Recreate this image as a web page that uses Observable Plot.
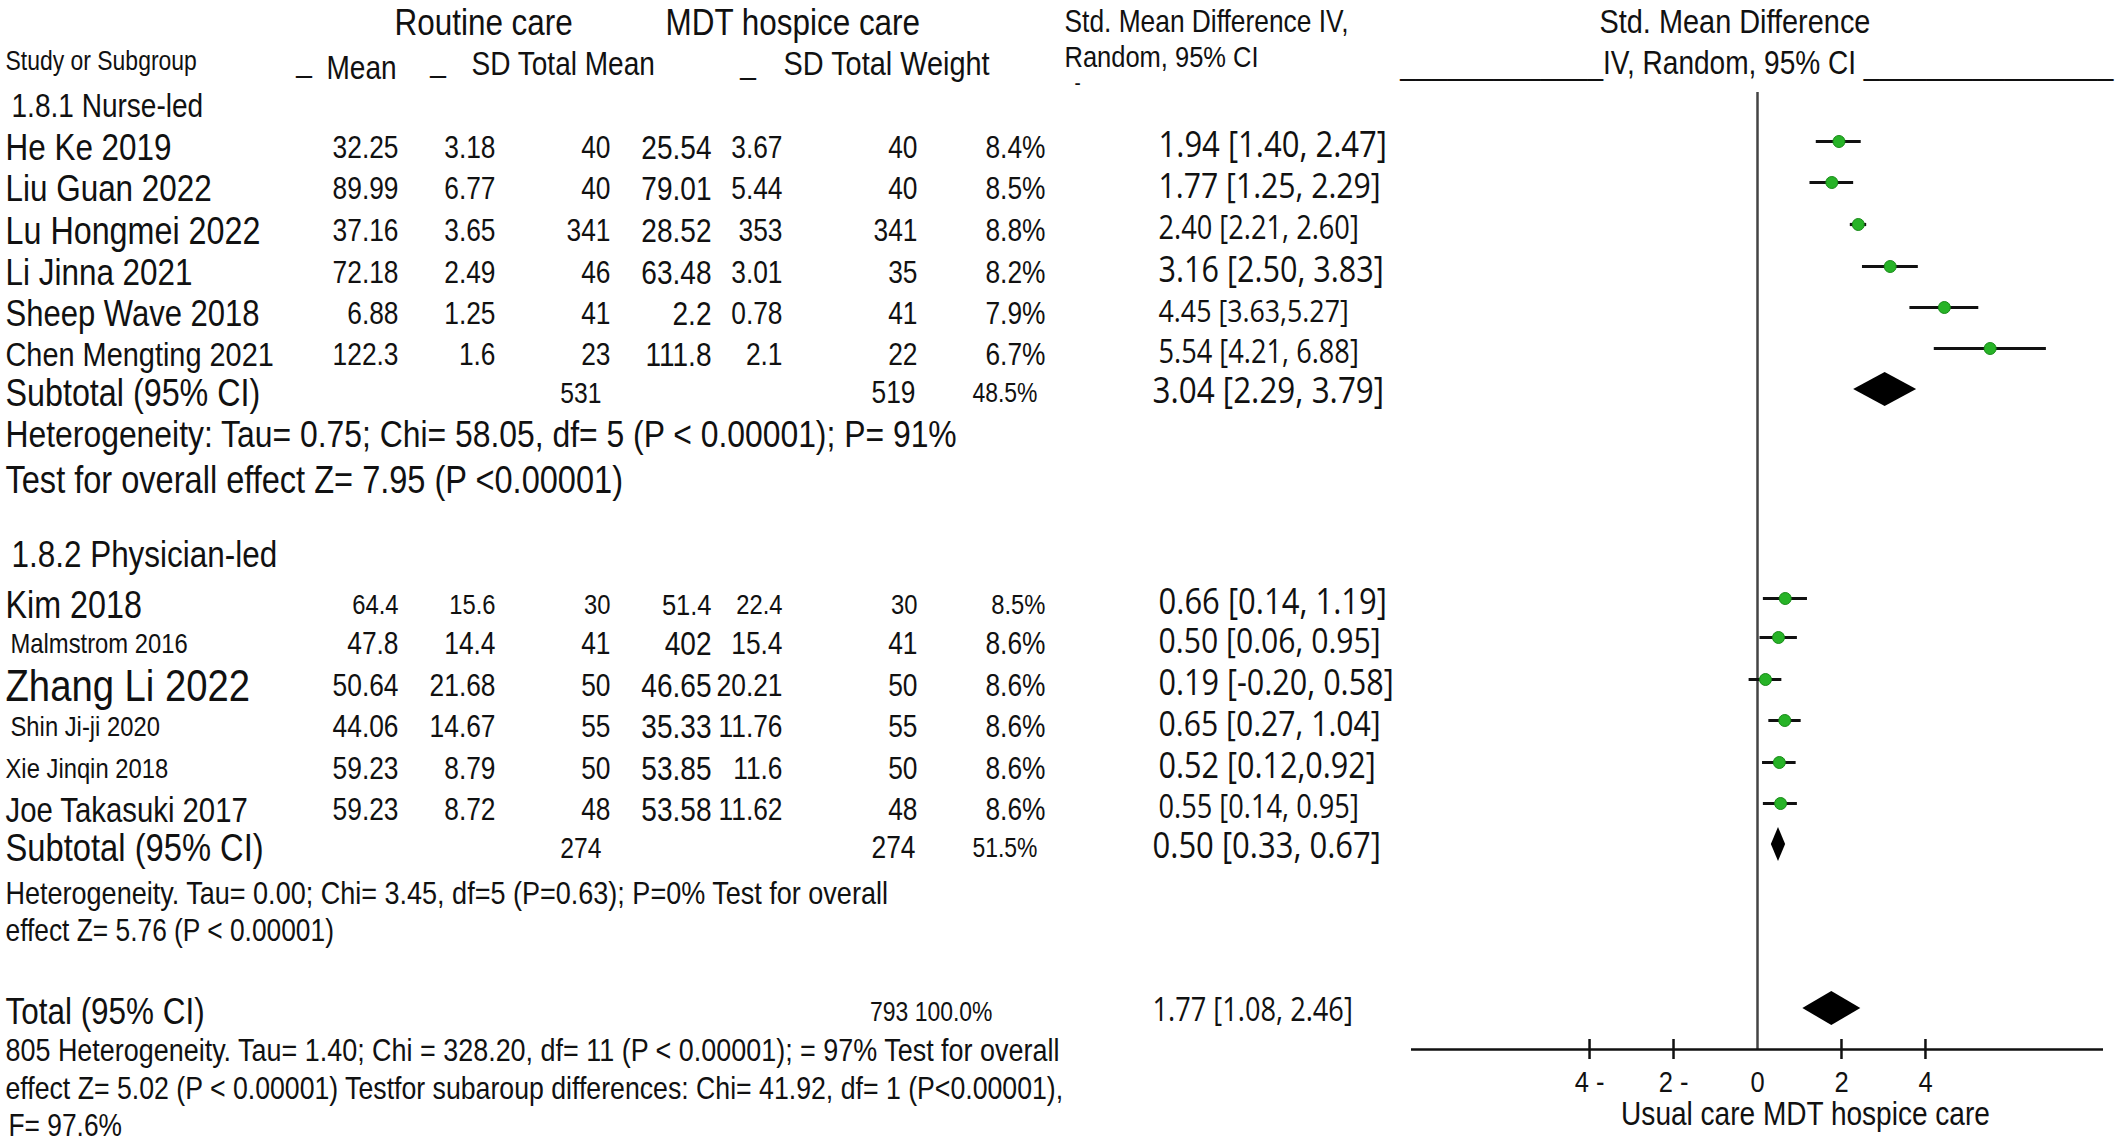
<!DOCTYPE html>
<html><head><meta charset="utf-8">
<script src="https://cdn.jsdelivr.net/npm/d3@7"></script>
<script src="https://cdn.jsdelivr.net/npm/@observablehq/plot@0.6"></script>
<style>
html,body{margin:0;padding:0;background:#fff;}
#chart{width:2128px;height:1147px;overflow:hidden;}
</style></head><body><div id="chart"></div>
<script>
// ================= DATA =================
// 1.8.1 Nurse-led
const nurseStudies = ["He Ke 2019", "Liu Guan 2022", "Lu Hongmei 2022", "Li Jinna 2021", "Sheep Wave 2018", "Chen Mengting 2021"];
const nurseMeanR = [32.25, 89.99, 37.16, 72.18, 6.88, 122.3];
const nurseSdR   = [3.18, 6.77, 3.65, 2.49, 1.25, 1.6];
const nurseNR    = [40, 40, 341, 46, 41, 23];
const nurseMeanM = [25.54, 79.01, 28.52, 63.48, 2.2, 111.8];
const nurseSdM   = [3.67, 5.44, 353, 3.01, 0.78, 2.1];
const nurseNM    = [40, 40, 341, 35, 41, 22];
const nurseWeight = [8.4, 8.5, 8.8, 8.2, 7.9, 6.7];
const nurseSMD = [1.94, 1.77, 2.40, 3.16, 4.45, 5.54];
const nurseLo  = [1.40, 1.25, 2.21, 2.50, 3.63, 4.21];
const nurseHi  = [2.47, 2.29, 2.60, 3.83, 5.27, 6.88];
const nurseCI  = ["1.94 [1.40, 2.47]", "1.77 [1.25, 2.29]", "2.40 [2.21, 2.60]", "3.16 [2.50, 3.83]", "4.45 [3.63,5.27]", "5.54 [4.21, 6.88]"];

// 1.8.2 Physician-led
const physStudies = ["Kim 2018", "Malmstrom 2016", "Zhang Li 2022", "Shin Ji-ji 2020", "Xie Jinqin 2018", "Joe Takasuki 2017"];
const physMeanR = [64.4, 47.8, 50.64, 44.06, 59.23, 59.23];
const physSdR   = [15.6, 14.4, 21.68, 14.67, 8.79, 8.72];
const physNR    = [30, 41, 50, 55, 50, 48];
const physMeanM = [51.4, 402, 46.65, 35.33, 53.85, 53.58];
const physSdM   = [22.4, 15.4, 20.21, 11.76, 11.6, 11.62];
const physNM    = [30, 41, 50, 55, 50, 48];
const physWeight = [8.5, 8.6, 8.6, 8.6, 8.6, 8.6];
const physSMD = [0.66, 0.50, 0.19, 0.65, 0.52, 0.55];
const physLo  = [0.14, 0.06, -0.20, 0.27, 0.12, 0.14];
const physHi  = [1.19, 0.95, 0.58, 1.04, 0.92, 0.95];
const physCI  = ["0.66 [0.14, 1.19]", "0.50 [0.06, 0.95]", "0.19 [-0.20, 0.58]", "0.65 [0.27, 1.04]", "0.52 [0.12,0.92]", "0.55 [0.14, 0.95]"];

// Subtotals and total
const summaryLabels = ["Subtotal (95% CI)", "Subtotal (95% CI)", "Total (95% CI)"];
const summaryNR = [531, 274, null];
const summaryNM = [519, 274, 793];
const summaryWeight = [48.5, 51.5, 100.0];
const summarySMD = [3.04, 0.50, 1.77];
const summaryLo  = [2.29, 0.33, 1.08];
const summaryHi  = [3.79, 0.67, 2.46];
const summaryCI  = ["3.04 [2.29, 3.79]", "0.50 [0.33, 0.67]", "1.77 [1.08, 2.46]"];

// Texts
const groupLabels = ["1.8.1 Nurse-led", "1.8.2 Physician-led"];
const notes = [
  "Heterogeneity: Tau= 0.75; Chi= 58.05, df= 5 (P < 0.00001); P= 91%",
  "Test for overall effect Z= 7.95 (P <0.00001)",
  "Heterogeneity. Tau= 0.00; Chi= 3.45, df=5 (P=0.63); P=0% Test for overall",
  "effect Z= 5.76 (P < 0.00001)",
  "805 Heterogeneity. Tau= 1.40; Chi = 328.20, df= 11 (P < 0.00001); = 97% Test for overall",
  "effect Z= 5.02 (P < 0.00001) Testfor subaroup differences: Chi= 41.92, df= 1 (P<0.00001),",
  "F= 97.6%"
];
const headerTexts = ["Routine care", "MDT hospice care", "Study or Subgroup", "_", "Mean", "_", "SD Total Mean", "_", "SD Total Weight",
  "Std. Mean Difference IV,", "Random, 95% CI", "-", "Std. Mean Difference",
  "_____________IV, Random, 95% CI\u00a0________________"];
const axisTicks = [-4, -2, 0, 2, 4];
const axisTitle = "Usual care MDT hospice care";
const xDomain = [-8.24, 8.24];

// ================= LAYOUT / STYLE (not data) =================
const W = 2128, H = 1147;
const SQUISH = 0.85;
const FONT = "'Liberation Sans', Arial, Helvetica, sans-serif";
const FONT_CI = "'Open Sans', 'Noto Sans', sans-serif";
const nurseRowY = [148, 189, 231, 273, 314, 355];
const physRowY  = [605, 644, 686, 727, 769, 810];
const summaryRowY = [393, 848, 1012];
const nurseNameSize = [37, 37, 38, 37, 36.5, 34];
const physNameSize  = [38, 28, 45, 28, 28, 34.5];
const summaryNameSize = [38, 38.5, 37];
const nurseNumSize = [31, 31, 31, 31, 31, 31];
const physNumSize  = [28, 31, 31, 31, 31, 31];
const nurseCISize = [36.5, 35.5, 32, 36, 31.5, 32];
const physCISize  = [36.5, 35.5, 36, 35.5, 36, 32];
const summaryCISize = [37, 36.5, 32];
const headerLayout = [
  [394, 23, 37], [665, 23, 37], [5, 61, 27], [296, 60, 33], [326, 68, 33], [430, 60, 33], [471, 64, 33], [740, 62, 33], [783, 64, 34],
  [1064, 22, 31], [1064, 57, 30], [1074, 82, 22], [1599, 22, 34], [1400, 63, 33]
];
const groupLayout = [[11, 106, 33], [11, 555, 37]];
const noteLayout = [[5, 434, 37.5], [5, 480, 38.3], [5, 893, 31.8], [5, 931, 31], [5, 1050, 31.7], [5, 1088, 31.4], [8, 1126, 31]];
const axisY = 1049, zeroTop = 92;
const col = {name: 5, meanR: 398, sdR: 495, nR: 610, meanM: 711, sdM: 782, nM: 917, weight: 1045, ci: 1158};
const nameDx = {"Malmstrom 2016": 5, "Shin Ji-ji 2020": 4};

// ================= BUILD TABLES =================
const studyRows = [];
nurseStudies.forEach((name, i) => studyRows.push({name, meanR: nurseMeanR[i], sdR: nurseSdR[i], nR: nurseNR[i], meanM: nurseMeanM[i], sdM: nurseSdM[i], nM: nurseNM[i], weight: nurseWeight[i], smd: nurseSMD[i], lo: nurseLo[i], hi: nurseHi[i], ci: nurseCI[i], y: nurseRowY[i], nameSize: nurseNameSize[i], numSize: nurseNumSize[i], ciSize: nurseCISize[i]}));
physStudies.forEach((name, i) => studyRows.push({name, meanR: physMeanR[i], sdR: physSdR[i], nR: physNR[i], meanM: physMeanM[i], sdM: physSdM[i], nM: physNM[i], weight: physWeight[i], smd: physSMD[i], lo: physLo[i], hi: physHi[i], ci: physCI[i], y: physRowY[i], nameSize: physNameSize[i], numSize: physNumSize[i], ciSize: physCISize[i]}));
const summaryRows = summaryLabels.map((name, i) => ({name, nR: summaryNR[i], nM: summaryNM[i], weight: summaryWeight[i], smd: summarySMD[i], lo: summaryLo[i], hi: summaryHi[i], ci: summaryCI[i], y: summaryRowY[i], nameSize: summaryNameSize[i], ciSize: summaryCISize[i], total: i === 2}));
const diamondHalf = 17, diamondDy = -4;
const diamondPts = summaryRows.flatMap((d, k) => [
  {k, y: d.y + diamondDy - diamondHalf, x1: d.smd, x2: d.smd},
  {k, y: d.y + diamondDy, x1: d.lo, x2: d.hi},
  {k, y: d.y + diamondDy + diamondHalf, x1: d.smd, x2: d.smd}
]);

function column(data, text, x, anchor, size, opts = {}) {
  return Plot.text(data, {y: "y", frameAnchor: "left", dx: x, text, textAnchor: anchor, fontSize: size, fontFamily: FONT, fill: "#111", ...opts});
}
function label(text, [x, y, size], opts = {}) {
  return Plot.text([text], {frameAnchor: "top-left", dx: x, dy: y, text: d => d, textAnchor: "start", lineAnchor: "middle", fontSize: size, fontFamily: FONT, fill: "#111", ...opts});
}
const fmtPct = v => v.toFixed(1) + "%";
const tickFmt = d => d < 0 ? `${-d} -` : `${d}`;

const sub = summaryRows.filter(d => !d.total);
const tot = summaryRows.filter(d => d.total);
const namesShifted = studyRows.filter(d => nameDx[d.name]);
const namesPlain = studyRows.filter(d => !nameDx[d.name]);

const svg = Plot.plot({
  width: W, height: H,
  marginTop: 0, marginBottom: 0, marginLeft: 0, marginRight: 0,
  x: {domain: xDomain, range: [1411, 2103], axis: null},
  y: {domain: [0, H], range: [0, H], axis: null},
  style: {background: "#fff", fontFamily: FONT, color: "#111"},
  marks: [
    // headers
    ...headerTexts.map((t, i) => label(t, headerLayout[i])),
    ...groupLabels.map((t, i) => label(t, groupLayout[i])),
    ...notes.map((t, i) => label(t, noteLayout[i])),
    // study table
    column(namesPlain, "name", col.name, "start", d => d.nameSize),
    column(namesShifted, "name", col.name + 5, "start", d => d.nameSize),
    column(studyRows, d => String(d.meanR), col.meanR, "end", d => d.numSize),
    column(studyRows, d => String(d.sdR), col.sdR, "end", d => d.numSize),
    column(studyRows, d => String(d.nR), col.nR, "end", d => d.numSize),
    column(studyRows, d => String(d.meanM), col.meanM, "end", d => d.numSize + 2),
    column(studyRows, d => String(d.sdM), col.sdM, "end", d => d.numSize),
    column(studyRows, d => String(d.nM), col.nM, "end", d => d.numSize),
    column(studyRows, d => fmtPct(d.weight), col.weight, "end", d => d.numSize),
    column(studyRows, "ci", col.ci, "start", d => d.ciSize, {fontFamily: FONT_CI, dy: -3}),
    // summary table
    column(summaryRows, "name", col.name, "start", d => d.nameSize),
    column(sub, d => String(d.nR), 601, "end", 29),
    column(sub, d => String(d.nM), 915, "end", 31),
    column(sub, d => fmtPct(d.weight), 1037, "end", 27),
    column(tot, d => `${d.nM} ${fmtPct(d.weight)}`, 992, "end", 27),
    column(summaryRows, "ci", col.ci - 6, "start", d => d.ciSize, {fontFamily: FONT_CI, dy: -2}),
    // forest plot
    Plot.ruleX([0], {y1: zeroTop, y2: axisY, stroke: "#444", strokeWidth: 2.5}),
    Plot.ruleY([axisY], {x1: xDomain[0], x2: xDomain[1], stroke: "#111", strokeWidth: 2.5}),
    Plot.ruleX(axisTicks.filter(d => d !== 0), {y1: axisY - 10, y2: axisY + 10, stroke: "#111", strokeWidth: 2.5}),
    Plot.text(axisTicks, {x: d => d, y: axisY + 33, text: tickFmt, fontSize: 30, fontFamily: FONT, fill: "#111"}),
    label(axisTitle, [1805, 1114, 33], {textAnchor: "middle"}),
    Plot.ruleY(studyRows, {y: "y", x1: "lo", x2: "hi", dy: -7, stroke: "#111", strokeWidth: 3.2}),
    Plot.dot(studyRows, {x: "smd", y: "y", dy: -7, r: 6, fill: "#27b327", stroke: "#178a17", strokeWidth: 1}),
    Plot.areaX(diamondPts, {y: "y", x1: "x1", x2: "x2", z: "k", fill: "#000", curve: "linear"})
  ]
});

document.getElementById("chart").appendChild(svg);

// horizontal condensing of text glyphs around each text's own anchor point
svg.querySelectorAll("text").forEach(t => {
  const b = t.getBBox();
  const holder = t.closest("[text-anchor]");
  const anchor = (t.getAttribute("text-anchor") || (holder && holder.getAttribute("text-anchor")) || "start");
  const ax = anchor === "end" ? b.x + b.width : anchor === "middle" ? b.x + b.width / 2 : b.x;
  const tr = t.getAttribute("transform") || "";
  t.setAttribute("transform", `${tr} translate(${ax},0) scale(${SQUISH},1) translate(${-ax},0)`.trim());
});
</script>
</body></html>
